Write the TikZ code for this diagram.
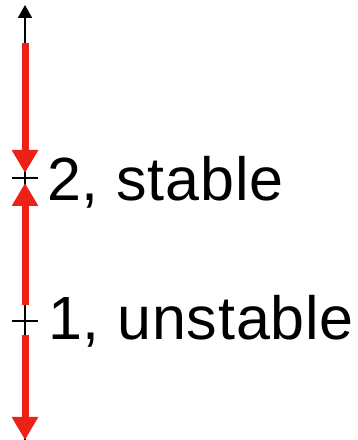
\documentclass[tikz,border=0pt]{standalone}
\usepackage{fontspec}
\setmainfont{Liberation Sans}[LetterSpace=1.3]
\usetikzlibrary{arrows.meta}
\definecolor{flowred}{RGB}{236,34,24}
\begin{document}
\begin{tikzpicture}[x=1pt,y=1pt,
  axisline/.style={black,line width=2pt},
  flow/.style={flowred,line width=7pt,-{Triangle[width=25pt,length=23pt]}},
  lbl/.style={anchor=base west,inner sep=0pt,font=\fontsize{61}{70}\selectfont}]
\useasboundingbox (0,0) rectangle (357,440);
% coordinates (y = 440 - pixel row)
\coordinate (axbot) at (25,0);
\coordinate (axtop) at (25,435);
\coordinate (r1s) at (25,397);
\coordinate (r1e) at (25,267);
\coordinate (r2s) at (25,135);
\coordinate (r2e) at (25,257);
\coordinate (r3s) at (25,105);
\coordinate (r3e) at (25,0);
\coordinate (t2) at (25,262);
\coordinate (t1) at (25,119);
\coordinate (t2l) at (12,262);
\coordinate (t2r) at (38,262);
\coordinate (t1l) at (12,119);
\coordinate (t1r) at (38,119);
% axis
\draw[axisline,-{Triangle[width=14pt,length=13pt]}] (axbot) -- (axtop);
% flows
\draw[flow] (r1s) -- (r1e);
\draw[flow] (r2s) -- (r2e);
\draw[flow] (r3s) -- (r3e);
% ticks
\draw[axisline] (t2l) -- (t2r);
\draw[axisline] (t1l) -- (t1r);
% labels
\node[lbl] (lab2) at (47,239) {2, stable};
\node[lbl] (lab1) at (48,100) {1, unstable};
\end{tikzpicture}
\end{document}
